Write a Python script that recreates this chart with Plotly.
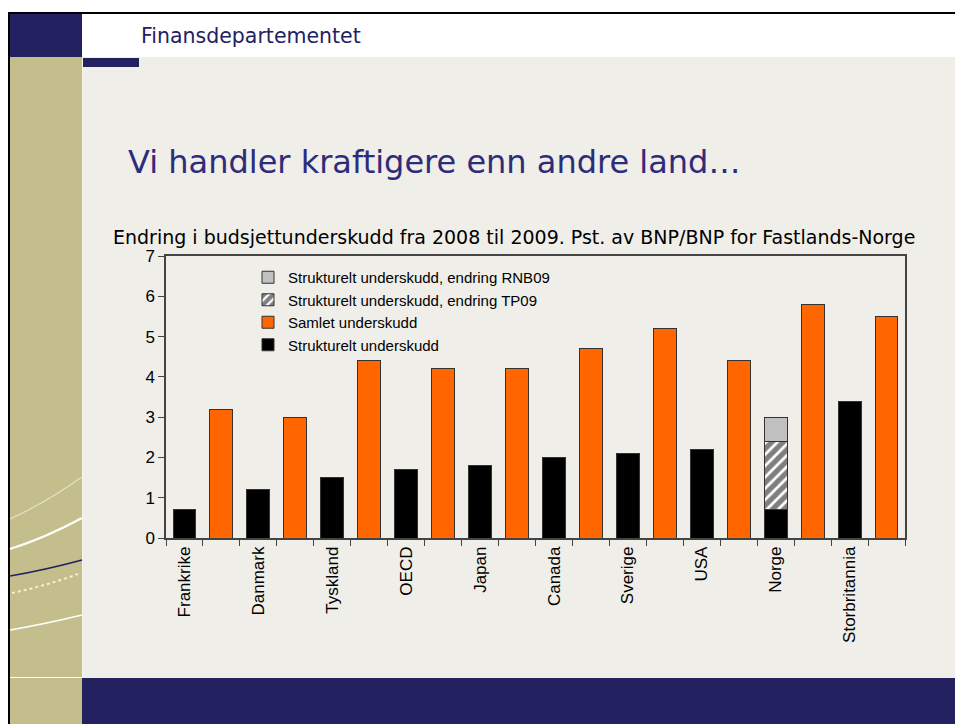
import plotly.graph_objects as go

# data
countries = ["Frankrike", "Danmark", "Tyskland", "OECD", "Japan",
             "Canada", "Sverige", "USA", "Norge", "Storbritannia"]
strukturelt = [0.7, 1.2, 1.5, 1.7, 1.8, 2.0, 2.1, 2.2, 0.7, 3.4]
samlet = [3.2, 3.0, 4.4, 4.2, 4.2, 4.7, 5.2, 4.4, 5.8, 5.5]
endring_tp09 = {"Norge": 1.7}
endring_rnb09 = {"Norge": 0.6}

# each country gets two slots: structural bar, then total bar
cats, labels = [], []
for c in countries:
    cats += [c, c + "_samlet"]
    labels += [c, ""]

# page coordinates of the plot area (body margin removed below)
W, H = 955, 724
X0, X1, Y0, Y1 = 166, 905, 256, 538
L, R, T, B = X0, W - X1, Y0, H - Y1
PW, PH = X1 - X0, Y1 - Y0


def px(x):
    return (x - X0) / PW


def py(y):
    return (Y1 - y) / PH


fig = go.Figure()
fig.add_trace(go.Bar(
    x=countries, y=strukturelt, name="Strukturelt underskudd",
    marker=dict(color="black", line=dict(color="#333333", width=1)),
))
fig.add_trace(go.Bar(
    x=[c + "_samlet" for c in countries], y=samlet, name="Samlet underskudd",
    marker=dict(color="#FF6600", line=dict(color="#333333", width=1)),
))
fig.add_trace(go.Bar(
    x=list(endring_tp09.keys()), y=list(endring_tp09.values()),
    name="Strukturelt underskudd, endring TP09",
    marker=dict(color="white", line=dict(color="#333333", width=1),
                pattern=dict(shape="/", fgcolor="black", bgcolor="white",
                             size=8, solidity=0.65)),
))
fig.add_trace(go.Bar(
    x=list(endring_rnb09.keys()), y=list(endring_rnb09.values()),
    name="Strukturelt underskudd, endring RNB09",
    marker=dict(color="#C0C0C0", line=dict(color="#333333", width=1)),
))

# slide decoration
bg = "#EFEEE8"
navy = "#23215F"
beige = "#C3BE8C"
shapes = [
    dict(type="rect", x0=px(8), x1=px(W), y0=py(12), y1=py(H), fillcolor="black", line_width=0),
    dict(type="rect", x0=px(10), x1=px(W), y0=py(14), y1=py(H), fillcolor=bg, line_width=0),
    dict(type="rect", x0=px(82), x1=px(W), y0=py(14), y1=py(57), fillcolor="white", line_width=0),
    dict(type="rect", x0=px(10), x1=px(82), y0=py(14), y1=py(57), fillcolor=navy, line_width=0),
    dict(type="rect", x0=px(10), x1=px(82), y0=py(57), y1=py(H), fillcolor=beige, line_width=0),
    dict(type="rect", x0=px(82), x1=px(139), y0=py(58), y1=py(67), fillcolor=navy, line_width=0),
    dict(type="rect", x0=px(82), x1=px(W), y0=py(678), y1=py(H), fillcolor=navy, line_width=0),
    dict(type="line", x0=px(10), x1=px(82), y0=py(677.5), y1=py(677.5), line=dict(color="white", width=1)),
    dict(type="line", x0=px(82.5), x1=px(82.5), y0=py(57), y1=py(677), line=dict(color="#F7F6EE", width=1)),
]
curves = [
    ((10, 519), (45, 503), (82, 477), "#E4E1C8", 1.2, "solid"),
    ((10, 549), (45, 538), (82, 518), "white", 2.2, "solid"),
    ((10, 576), (45, 570), (82, 560), navy, 1.6, "solid"),
    ((12, 593), (45, 586), (78, 574), "#F5F1D0", 2, "dot"),
    ((10, 630), (45, 624), (82, 615), "white", 1.6, "solid"),
]
for p0, c, p1, col, w, dash in curves:
    shapes.append(dict(
        type="path",
        path=f"M {px(p0[0])},{py(p0[1])} Q {px(c[0])},{py(c[1])} {px(p1[0])},{py(p1[1])}",
        line=dict(color=col, width=w, dash=dash),
    ))
for s in shapes:
    s.update(xref="paper", yref="paper", layer="below")

annotations = [
    dict(text="Finansdepartementet", x=px(139), y=py(36), xanchor="left", yanchor="middle",
         font=dict(family="DejaVu Sans", size=20.5, color=navy), showarrow=False),
    dict(text="Vi handler kraftigere enn andre land…", x=px(126), y=py(162), xanchor="left",
         yanchor="middle", font=dict(family="DejaVu Sans", size=32, color="#2E2C7A"), showarrow=False),
    dict(text="Endring i budsjettunderskudd fra 2008 til 2009. Pst. av BNP/BNP for Fastlands-Norge",
         x=px(111), y=py(237), xanchor="left", yanchor="middle",
         font=dict(family="DejaVu Sans", size=19, color="black"), showarrow=False),
]
for a in annotations:
    a.update(xref="paper", yref="paper")

fig.update_layout(
    width=W, height=H,
    margin=dict(l=L, r=R, t=T, b=B, pad=0),
    paper_bgcolor="white", plot_bgcolor="rgba(0,0,0,0)",
    barmode="stack", bargap=0.38,
    font=dict(family="Liberation Sans, Arial", size=17, color="black"),
    shapes=shapes, annotations=annotations,
    legend=dict(x=px(248), y=py(261), xanchor="left", yanchor="top",
                traceorder="reversed", bgcolor="rgba(0,0,0,0)",
                font=dict(size=15), itemwidth=30),
    xaxis=dict(type="category", categoryorder="array", categoryarray=cats,
               tickmode="array", tickvals=cats, ticktext=labels, tickangle=-90,
               tickson="boundaries", ticks="outside", ticklen=6, tickcolor="#444",
               showline=True, linecolor="#444", linewidth=1.5, mirror=True,
               showgrid=False),
    yaxis=dict(range=[0, 7], dtick=1, ticks="outside", ticklen=6, tickcolor="#444",
               showline=True, linecolor="#444", linewidth=1.5, mirror=True,
               showgrid=False, zeroline=False),
)

fig.write_html("out.html", config={"displayModeBar": False},
               post_script="document.body.style.margin='0';document.body.style.overflow='hidden';")
